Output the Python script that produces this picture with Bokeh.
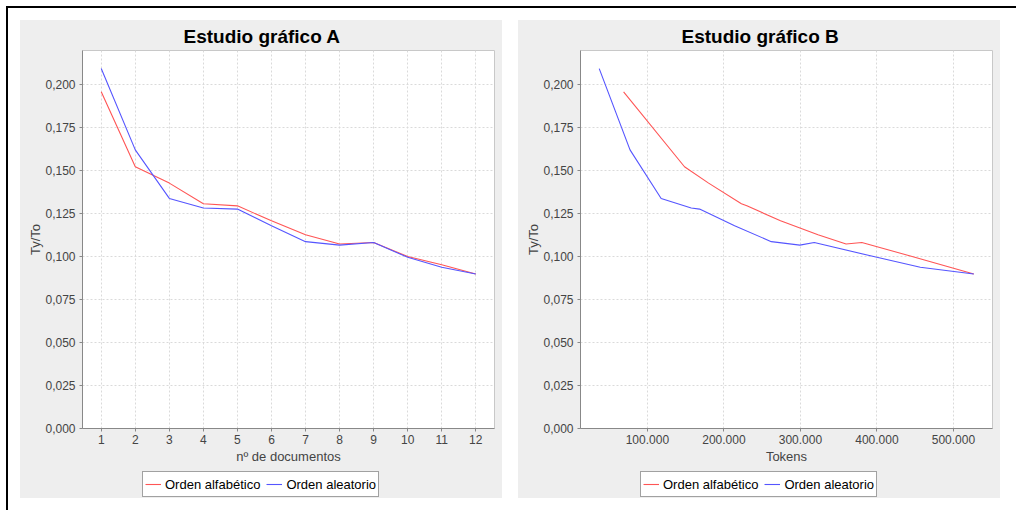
from bokeh.plotting import figure
from bokeh.models import Range1d, FixedTicker, Title, Spacer, Legend, LegendItem
from bokeh.layouts import row, column
from bokeh.embed import file_html
from bokeh.resources import INLINE

# ---- data ----
docs = [1, 2, 3, 4, 5, 6, 7, 8, 9, 10, 11, 12]
alpha_ratio = [0.1955, 0.1520, 0.1425, 0.1305, 0.1293, 0.1206, 0.1125, 0.1071, 0.1080, 0.0999, 0.0951, 0.0897]
random_ratio = [0.2090, 0.1618, 0.1336, 0.1280, 0.1274, 0.1177, 0.1085, 0.1065, 0.1080, 0.0994, 0.0936, 0.0897]
alpha_tokens = [68900, 148500, 180000, 222900, 230000, 274000, 323000, 359700, 380300, 446000, 484000, 526600]
random_tokens = [37050, 77300, 118000, 157300, 168200, 214000, 262000, 299300, 318100, 400000, 456700, 526600]

y_ticks = [0.0, 0.025, 0.05, 0.075, 0.1, 0.125, 0.15, 0.175, 0.2]
y_tick_labels = ["0,000", "0,025", "0,050", "0,075", "0,100", "0,125", "0,150", "0,175", "0,200"]
xa_ticks = docs
xa_tick_labels = [str(d) for d in docs]
xb_ticks = [100000, 200000, 300000, 400000, 500000]
xb_tick_labels = ["100.000", "200.000", "300.000", "400.000", "500.000"]

series_names = ["Orden alfabético", "Orden aleatorio"]
titles = ["Estudio gráfico A", "Estudio gráfico B"]
x_labels = ["nº de documentos", "Tokens"]
y_label = "Ty/To"

RED = "#FF5555"
BLUE = "#5555FF"
FONT = "Liberation Sans"
BG = "#EEEEEE"


def make_chart(title, xlabel, xs_red, xs_blue, x_range, xticks, xtick_labels):
    p = figure(width=482, height=446, output_backend="svg", toolbar_location=None,
               x_range=x_range, y_range=Range1d(0, 0.2195),
               min_border_left=62, min_border_right=8, min_border_top=30, min_border_bottom=38,
               background_fill_color="white", border_fill_color=BG,
               outline_line_color="#C8C8C8", outline_line_width=1)
    t = Title(text=title, align="left", offset=101, standoff=7,
              text_font=FONT, text_font_size="19px", text_font_style="bold", text_color="black")
    p.add_layout(t, "above")

    p.line(xs_red, alpha_ratio, line_color=RED, line_width=1.1)
    p.line(xs_blue, random_ratio, line_color=BLUE, line_width=1.1)

    for ax in (p.xaxis[0], p.yaxis[0]):
        ax.axis_line_color = "#888888"
        ax.major_tick_line_color = "#888888"
        ax.major_tick_in = 0
        ax.major_tick_out = 3
        ax.minor_tick_line_color = None
        ax.major_label_text_font = FONT
        ax.major_label_text_font_size = "12px"
        ax.major_label_text_color = "#444444"
        ax.axis_label_text_font = FONT
        ax.axis_label_text_font_size = "13px"
        ax.axis_label_text_font_style = "normal"
        ax.axis_label_text_color = "#444444"
        ax.major_label_standoff = 4

    p.xaxis.ticker = FixedTicker(ticks=xticks)
    p.xaxis.major_label_overrides = dict(zip(xticks, xtick_labels))
    p.xaxis.axis_label = xlabel
    p.xaxis.axis_label_standoff = 2
    p.xaxis.major_label_standoff = 3
    p.yaxis.ticker = FixedTicker(ticks=y_ticks)
    p.yaxis.major_label_overrides = dict(zip(y_ticks, y_tick_labels))
    p.yaxis.axis_label = y_label
    p.yaxis.axis_label_standoff = -1

    for g in (p.xgrid[0], p.ygrid[0]):
        g.grid_line_color = "#DADADA"
        g.grid_line_dash = "2 2"
        g.grid_line_width = 1
    return p


def make_legend_strip(xs_red, xs_blue):
    # small strip under each chart that carries the legend box
    s = figure(width=482, height=32, output_backend="svg", toolbar_location=None,
               x_axis_location=None, y_axis_location=None,
               x_range=Range1d(-2e6, -1e6), y_range=Range1d(-2, -1),
               min_border_left=0, min_border_right=0, min_border_top=0, min_border_bottom=0,
               background_fill_color=None, border_fill_color=BG, outline_line_color=None)
    s.grid.visible = False
    r1 = s.line(xs_red, alpha_ratio, line_color=RED, line_width=1.1)
    r2 = s.line(xs_blue, random_ratio, line_color=BLUE, line_width=1.1)
    lg = Legend(items=[LegendItem(label=series_names[0], renderers=[r1]),
                       LegendItem(label=series_names[1], renderers=[r2])],
                orientation="horizontal", location=(60, 1),
                label_text_font=FONT, label_text_font_size="13px", label_text_color="black",
                border_line_color="#444444", border_line_width=1,
                background_fill_color="white", background_fill_alpha=1.0,
                padding=2, spacing=6, margin=0, glyph_width=16, label_standoff=4)
    s.add_layout(lg, "center")
    return s


pa = make_chart(titles[0], x_labels[0], docs, docs, Range1d(0.45, 12.55),
                xa_ticks, xa_tick_labels)
la = make_legend_strip(docs, docs)
pb = make_chart(titles[1], x_labels[1], alpha_tokens, random_tokens, Range1d(12572, 551078),
                xb_ticks, xb_tick_labels)
lb = make_legend_strip(alpha_tokens, random_tokens)

ca = column(pa, la, styles={"background-color": BG})
ca.margin = (12, 0, 0, 12)
cb = column(pb, lb, styles={"background-color": BG})
cb.margin = (12, 0, 0, 16)

layout = row(ca, cb, Spacer(width=16, height=502),
             styles={"border-left": "2px solid black", "border-top": "2px solid black"})
layout.margin = (6, 0, 0, 6)

open("out.html", "w").write(file_html(layout, INLINE))
